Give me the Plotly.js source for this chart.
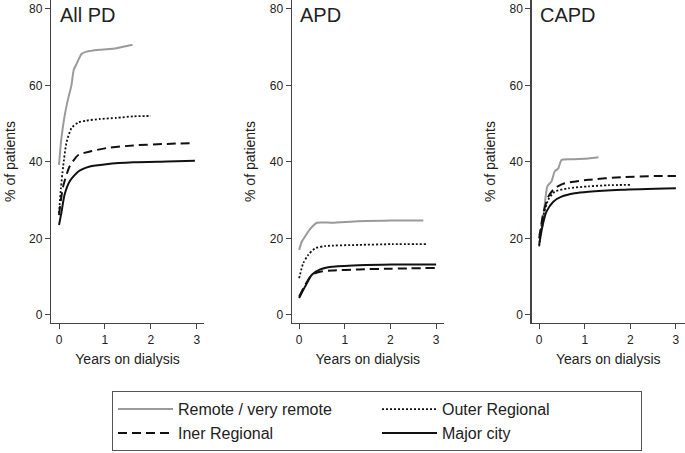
<!DOCTYPE html>
<html><head><meta charset="utf-8">
<script src="https://cdn.plot.ly/plotly-3.0.1.min.js"></script>
<style>body{margin:0;padding:0;background:#fff}#chart{width:685px;height:453px}</style>
</head><body><div id="chart"></div>
<script>
// Panel titles and series names
const panels = ["All PD", "APD", "CAPD"];
const seriesNames = ["Remote / very remote", "Outer Regional", "Iner Regional", "Major city"];

// All PD
const allRemoteX = [0, 0.05, 0.12, 0.2, 0.27, 0.32, 0.39, 0.49, 0.6, 0.89, 1.25, 1.6];
const allRemoteY = [39.2, 46, 51.9, 56.6, 60, 64, 65.8, 68.2, 68.8, 69.3, 69.7, 70.6];
const allOuterX = [0, 0.04, 0.09, 0.16, 0.27, 0.42, 0.6, 0.89, 1.25, 1.62, 2.0];
const allOuterY = [26.6, 33, 38.8, 44.9, 48.8, 50.3, 50.8, 51.2, 51.5, 51.9, 52.0];
const allInerX = [0, 0.04, 0.09, 0.23, 0.42, 0.67, 1.03, 1.62, 2.35, 2.93];
const allInerY = [26.1, 30, 33.6, 38.8, 41.8, 42.7, 43.6, 44.3, 44.7, 44.9];
const allMajorX = [0, 0.05, 0.12, 0.23, 0.42, 0.67, 1.03, 1.62, 2.35, 2.96];
const allMajorY = [23.5, 26.6, 31.4, 34.9, 37.5, 38.8, 39.4, 39.9, 40.1, 40.3];

// APD
const apdRemoteX = [0, 0.06, 0.13, 0.2, 0.29, 0.39, 0.72, 1.3, 2.03, 2.72];
const apdRemoteY = [17.0, 19.2, 20.5, 21.8, 23.1, 24.1, 24.1, 24.5, 24.7, 24.7];
const apdOuterX = [0, 0.09, 0.2, 0.35, 0.57, 1.3, 2.03, 2.8];
const apdOuterY = [9.6, 13.5, 15.7, 17.4, 18.0, 18.3, 18.5, 18.5];
const apdInerX = [0, 0.13, 0.28, 0.46, 0.72, 1.3, 2.03, 3.0];
const apdInerY = [4.8, 7.8, 10.5, 11.3, 11.6, 11.9, 12.1, 12.3];
const apdMajorX = [0, 0.13, 0.28, 0.46, 0.72, 1.3, 2.03, 3.0];
const apdMajorY = [4.4, 7.4, 10.5, 11.9, 12.6, 13.0, 13.2, 13.2];

// CAPD
const capdRemoteX = [0, 0.07, 0.11, 0.18, 0.27, 0.34, 0.42, 0.49, 0.71, 1.08, 1.3];
const capdRemoteY = [20.9, 23.1, 27.5, 33.6, 34.9, 37.5, 38.3, 40.5, 40.7, 40.9, 41.2];
const capdOuterX = [0, 0.07, 0.2, 0.34, 0.64, 1.08, 1.52, 2.0];
const capdOuterY = [17.9, 24.8, 30.1, 32.2, 33.1, 33.6, 33.9, 34.0];
const capdInerX = [0, 0.09, 0.2, 0.34, 0.56, 1.08, 1.81, 2.55, 3.0];
const capdInerY = [20.0, 26.6, 30.9, 33.1, 34.4, 35.3, 36.0, 36.3, 36.3];
const capdMajorX = [0, 0.07, 0.16, 0.31, 0.49, 0.78, 1.08, 1.81, 3.0];
const capdMajorY = [18.3, 23.1, 27.0, 29.6, 30.9, 31.8, 32.2, 32.7, 33.1];

const xTicks = [0, 1, 2, 3];
const yTicks = [0, 20, 40, 60, 80];

const styles = [
  {color: "#9a9a9a", width: 2, dash: "solid"},
  {color: "#111111", width: 1.8, dash: "2px,2px"},
  {color: "#111111", width: 2, dash: "9px,5px"},
  {color: "#111111", width: 2, dash: "solid"}
];

const panelData = [
  [[allRemoteX, allRemoteY], [allOuterX, allOuterY], [allInerX, allInerY], [allMajorX, allMajorY]],
  [[apdRemoteX, apdRemoteY], [apdOuterX, apdOuterY], [apdInerX, apdInerY], [apdMajorX, apdMajorY]],
  [[capdRemoteX, capdRemoteY], [capdOuterX, capdOuterY], [capdInerX, capdInerY], [capdMajorX, capdMajorY]]
];

const traces = [];
panelData.forEach((pd, p) => {
  pd.forEach((s, i) => {
    traces.push({
      x: s[0], y: s[1], type: "scatter", mode: "lines",
      name: seriesNames[i], line: Object.assign({shape: "spline", smoothing: 0.6}, styles[i]),
      xaxis: p === 0 ? "x" : "x" + (p + 1),
      yaxis: p === 0 ? "y" : "y" + (p + 1),
      showlegend: p === 0, hoverinfo: "skip"
    });
  });
});

const font = {family: "Liberation Sans, Arial, sans-serif", color: "#222"};
const xDomains = [[0.0745, 0.298], [0.426, 0.648], [0.776, 1.0]];
const xRanges = [[-0.174, 3.16], [-0.16, 3.17], [-0.167, 3.2]];
const yDom = [0.287, 1.0];

const layout = {
  width: 685, height: 453,
  margin: {l: 0, r: 0, t: 0, b: 0, autoexpand: false},
  paper_bgcolor: "#fff", plot_bgcolor: "#fff",
  font: Object.assign({size: 12}, font),
  showlegend: true,
  legend: {
    orientation: "h", x: 0.1635, y: 0.004, xanchor: "left", yanchor: "bottom",
    bordercolor: "#555", borderwidth: 1, bgcolor: "#fff",
    font: Object.assign({size: 16}, font),
    entrywidth: 194, itemwidth: 55, tracegroupgap: 0
  },
  annotations: []
};

for (let p = 0; p < 3; p++) {
  const sx = p === 0 ? "" : String(p + 1);
  layout["xaxis" + sx] = {
    domain: xDomains[p], range: xRanges[p], anchor: "y" + sx,
    showline: true, linecolor: "#444", linewidth: 1.3, mirror: false,
    showgrid: false, zeroline: false,
    ticks: "outside", ticklen: 5, tickcolor: "#444", tickwidth: 1,
    tickvals: xTicks, ticktext: xTicks.map(String),
    tickfont: Object.assign({size: 12}, font),
    title: {text: "Years on dialysis", font: Object.assign({size: 14}, font), standoff: 8},
    fixedrange: true
  };
  layout["yaxis" + sx] = {
    domain: yDom, range: [-2.1, 82.3], anchor: "x" + sx,
    showline: true, linecolor: "#444", linewidth: 1.3,
    showgrid: false, zeroline: false,
    ticks: "outside", ticklen: 5, tickcolor: "#444", tickwidth: 1,
    tickvals: yTicks, ticktext: yTicks.map(String),
    tickfont: Object.assign({size: 12}, font),
    title: {text: "% of patients", font: Object.assign({size: 14}, font), standoff: 10},
    fixedrange: true
  };
  layout.annotations.push({
    text: panels[p], xref: "x" + sx, yref: "y" + sx, x: 0, y: 78.5,
    xanchor: "left", yanchor: "middle", showarrow: false,
    font: Object.assign({size: 20}, font), xshift: -1
  });
}

Plotly.newPlot("chart", traces, layout, {staticPlot: true});
</script></body></html>
